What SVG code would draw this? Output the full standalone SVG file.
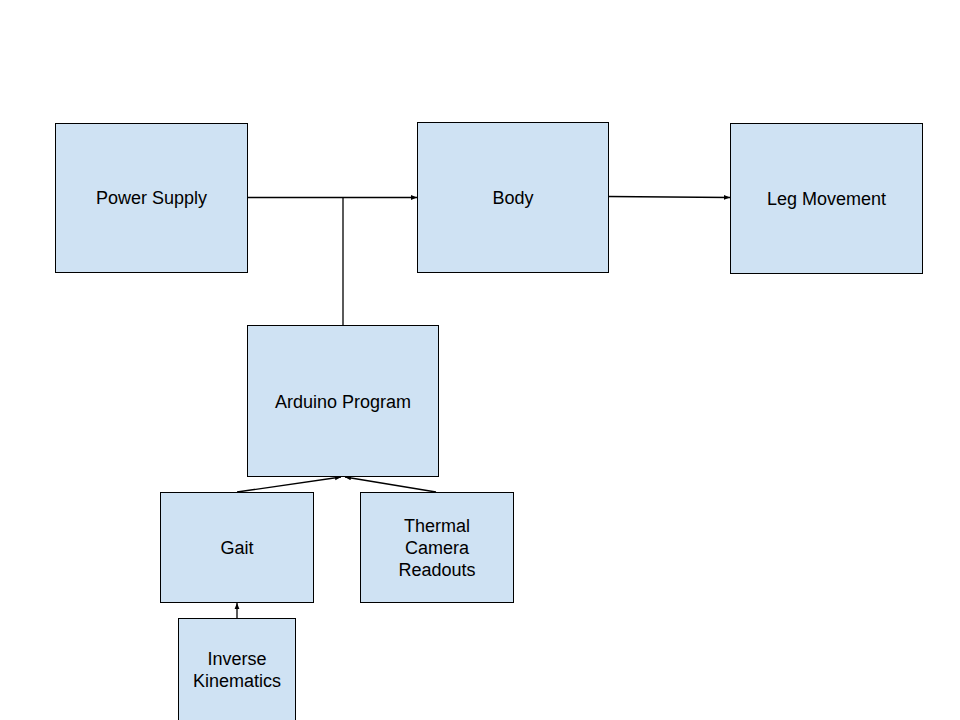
<svg xmlns="http://www.w3.org/2000/svg" width="960" height="720" viewBox="0 0 960 720">
<style>
.box{fill:#cfe2f3;stroke:#000;stroke-width:1}
.t{font-family:"Liberation Sans",Arial,sans-serif;font-size:18px;fill:#000;text-anchor:middle}
.c{fill:none;stroke:#000;stroke-width:1.3}
</style>
<defs>
<marker id="a" viewBox="0 0 10 10" refX="10" refY="5" markerWidth="6" markerHeight="6" markerUnits="userSpaceOnUse" orient="auto">
<path d="M0,1 L10,5 L0,9 Z" fill="#000"/>
</marker>
</defs>
<rect width="960" height="720" fill="#fff"/>
<g id="connectors">
<path class="c" d="M247,197.5 H417" marker-end="url(#a)"/>
<path class="c" d="M343,325 V197.5"/>
<path class="c" d="M608,196.5 L730,197.5" marker-end="url(#a)"/>
<path class="c" d="M237,492 L341,477" marker-end="url(#a)"/>
<path class="c" d="M436,492 L345,477" marker-end="url(#a)"/>
<path class="c" d="M237,618 V603" marker-end="url(#a)"/>
</g>
<g id="power"><rect class="box" x="55.5" y="123.5" width="192" height="149"/><text class="t" x="151.5" y="204">Power Supply</text></g>
<g id="body"><rect class="box" x="417.5" y="122.5" width="191" height="150"/><text class="t" x="513" y="204">Body</text></g>
<g id="leg"><rect class="box" x="730.5" y="123.5" width="192" height="150"/><text class="t" x="826.5" y="205">Leg Movement</text></g>
<g id="arduino"><rect class="box" x="247.5" y="325.5" width="191" height="151"/><text class="t" x="343" y="408">Arduino Program</text></g>
<g id="gait"><rect class="box" x="160.5" y="492.5" width="153" height="110"/><text class="t" x="237" y="554">Gait</text></g>
<g id="thermal"><rect class="box" x="360.5" y="492.5" width="153" height="110"/><text class="t" x="437" y="532">Thermal</text><text class="t" x="437" y="554">Camera</text><text class="t" x="437" y="576">Readouts</text></g>
<g id="ik"><rect class="box" x="178.5" y="618.5" width="117" height="110"/><text class="t" x="237" y="665">Inverse</text><text class="t" x="237" y="687">Kinematics</text></g>
</svg>
